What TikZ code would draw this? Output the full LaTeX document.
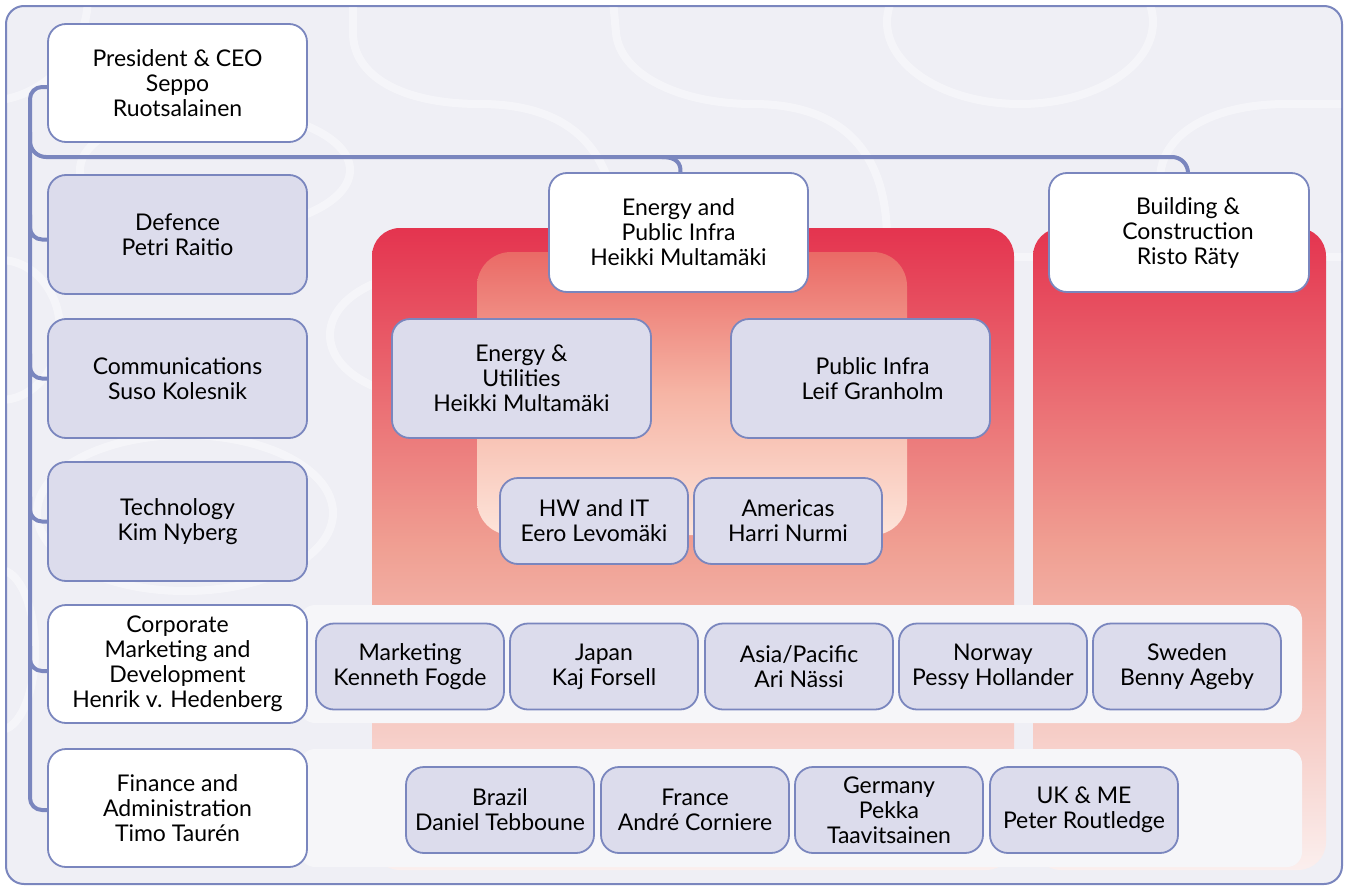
\documentclass[tikz,border=0pt]{standalone}
\usepackage{fontspec}
\setmainfont{Lato}
\usetikzlibrary{calc}
\definecolor{lineblue}{HTML}{7A86BE}
\definecolor{boxgray}{HTML}{DCDCEC}
\definecolor{bgfill}{HTML}{EFEFF5}
\definecolor{redtop}{HTML}{E4344F}
\definecolor{redmid}{HTML}{F0A093}
\definecolor{redbot}{HTML}{FBEFEE}
\definecolor{intop}{HTML}{EA6A66}
\definecolor{inmid}{HTML}{F6B5A5}
\definecolor{inbot}{HTML}{FDE4DA}
\definecolor{bandfill}{HTML}{F6F6F9}
\begin{document}
\begin{tikzpicture}[x=1pt,y=-1pt,
  conn/.style={draw=lineblue, line width=4pt},
  box/.style={draw=lineblue, line width=1.8pt, rounded corners=18pt, align=center, inner sep=0pt, execute at begin node={\rule{0pt}{26pt}}, font=\fontsize{23}{25}\selectfont},
  wbox/.style={box, fill=white, minimum width=259pt, minimum height=118pt},
  gbox/.style={box, fill=boxgray, minimum width=259pt, minimum height=119pt},
  sbox/.style={box, fill=boxgray, minimum width=188pt, minimum height=86pt},
  swirl/.style={draw=white, opacity=0.42, line width=8pt},
  panel/.style={top color=redtop, bottom color=redbot, middle color=redmid, rounded corners=28pt},
  inpanel/.style={top color=intop, bottom color=inbot, middle color=inmid, rounded corners=34pt},
  band/.style={fill=bandfill, rounded corners=15pt}]
\useasboundingbox (0,0) rectangle (1345,886);
% frame
\draw[draw=lineblue, fill=bgfill, line width=2pt, rounded corners=18pt] (6,6) rectangle (1342,884);
% background swirls
\begin{scope}
\clip[rounded corners=18pt] (7,7) rectangle (1341,883);
\draw[swirl] (353,0) -- (353,33) .. controls (353,75) and (400,104) .. (480,104) .. controls (560,104) and (617,140) .. (617,240);
\draw[swirl] (613,0) -- (616,33) .. controls (620,75) and (680,104) .. (753,104) .. controls (830,104) and (887,140) .. (887,240);
\draw[swirl] (1020,22) ellipse [x radius=133, y radius=82];
\draw[swirl] (1160,240) -- (1160,180) .. controls (1160,135) and (1210,104) .. (1287,104) -- (1345,104);
\draw[swirl] (1000,257) -- (1345,257);
\draw[swirl] (88,0) .. controls (85,60) and (40,95) .. (0,100);
\draw[swirl] (215,170) ellipse [x radius=135, y radius=60];
\draw[swirl] (185,513) ellipse [x radius=148, y radius=78];
\draw[swirl] (430,335) ellipse [x radius=100, y radius=62];
\draw[swirl] (0,330) ellipse [x radius=60, y radius=70];
\draw[swirl] (0,650) ellipse [x radius=35, y radius=80];
\end{scope}
% panels
\shade[panel] (372,228) rectangle (1014,870);
\shade[panel] (1033,228) rectangle (1326,870);
\shade[inpanel] (477,252) rectangle (907,535);
% bands
\fill[band] (300,605) rectangle (1302,723);
\fill[band] (300,749) rectangle (1302,867);
% left column
\node[wbox] (pres) at (177.5,83) {President \& CEO\\Seppo\\Ruotsalainen};
\node[gbox] (def) at (177.5,234.5) {Defence\\Petri Raitio};
\node[gbox] (comm) at (177.5,378.5) {Communications\\Suso Kolesnik};
\node[gbox] (tech) at (177.5,521.5) {Technology\\Kim Nyberg};
\node[wbox] (corp) at (177.5,664) {Corporate\\Marketing and\\Development\\Henrik v. Hedenberg};
\node[wbox] (fin) at (177.5,808) {Finance and\\Administration\\Timo Taurén};
% divisions
\node[wbox, minimum height=119pt] (energy) at (678.5,232.5) {Energy and\\Public Infra\\Heikki Multamäki};
\node[wbox, minimum height=119pt, minimum width=260pt] (bld) at (1179,232.5) {\hspace*{18pt}Building \&\\\hspace*{18pt}Construction\\\hspace*{18pt}Risto Räty};
\node[gbox] (eu) at (521.5,378.5) {Energy \&\\Utilities\\Heikki Multamäki};
\node[gbox] (pi) at (860.5,378.5) {\hspace*{24pt}Public Infra\\\hspace*{24pt}Leif Granholm};
\node[sbox] (hw) at (594,521) {HW and IT\\Eero Levomäki};
\node[sbox] (am) at (788,521) {Americas\\Harri Nurmi};
% row 1
\node[sbox] (mkt) at (410,666.5) {Marketing\\Kenneth Fogde};
\node[sbox] (jp) at (604,666.5) {Japan\\Kaj Forsell};
\node[sbox] (ap) at (799,666.5) {Asia/Pacific\\Ari Nässi};
\node[sbox] (no) at (993,666.5) {Norway\\Pessy Hollander};
\node[sbox] (se) at (1187,666.5) {Sweden\\Benny Ageby};
% row 2
\node[sbox] (br) at (500,810) {Brazil\\Daniel Tebboune};
\node[sbox] (fr) at (695,810) {France\\André Corniere};
\node[sbox] (de) at (889,810) {Germany\\Pekka\\Taavitsainen};
\node[sbox] (uk) at (1084,810) {UK \& ME\\Peter Routledge};
% connectors
\coordinate (tk) at (30,0);
\coordinate (bpres) at ($(pres.west)+(0,4)$);
\coordinate (bdef) at ($(def.west)+(0,5)$);
\coordinate (bcorp) at ($(corp.west)+(0,7)$);
\coordinate (bfin) at ($(fin.west)+(0,2)$);
\coordinate (ttop) at (30,157);
\coordinate (ej) at (662,157);
\coordinate (bj) at ($(bld.north)+(9,0)$);
\draw[conn, rounded corners=12pt] (bpres) -- (tk |- bpres) -- (tk |- bfin) -- (bfin);
\draw[conn, rounded corners=16pt] ($(ttop)+(0,-25)$) -- (ttop) -- (ttop -| bj) -- (bj);
\draw[conn] (ej) .. controls (676,157) and (681,163) .. ($(energy.north)+(2,0)$);
\draw[conn, rounded corners=12pt] ($(tk |- bdef)+(0,-25)$) -- (tk |- bdef) -- (bdef);
\draw[conn, rounded corners=12pt] ($(tk |- comm.west)+(0,-25)$) -- (tk |- comm.west) -- (comm.west);
\draw[conn, rounded corners=12pt] ($(tk |- tech.west)+(0,-25)$) -- (tk |- tech.west) -- (tech.west);
\draw[conn, rounded corners=12pt] ($(tk |- bcorp)+(0,-25)$) -- (tk |- bcorp) -- (bcorp);
\end{tikzpicture}
\end{document}
